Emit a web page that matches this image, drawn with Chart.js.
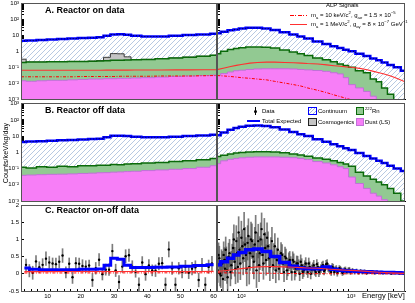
<!DOCTYPE html>
<html>
<head>
<meta charset="utf-8">
<script src="https://cdn.jsdelivr.net/npm/chart.js@4.4.0/dist/chart.umd.min.js"></script>
<style>
body { margin: 0; background: #fff; }
#wrap { position: relative; width: 415px; height: 303px; overflow: hidden; font-family: "Liberation Sans", Arial, sans-serif; color: #000; }
canvas { position: absolute; }
.t { position: absolute; white-space: nowrap; line-height: 1; }
.ttl { font-weight: bold; font-size: 9px; }
.lg { font-size: 6px; }
.lg sub, .lg sup { font-size: 70%; line-height: 0; }
.box { position: absolute; box-sizing: border-box; }
</style>
</head>
<body>
<div id="wrap">
  <canvas id="aL" width="222" height="105" style="left:0;top:0"></canvas>
  <canvas id="aR" width="208" height="105" style="left:207px;top:0"></canvas>
  <canvas id="bL" width="222" height="107" style="left:0;top:100px"></canvas>
  <canvas id="bR" width="208" height="107" style="left:207px;top:100px"></canvas>
  <canvas id="cL" width="222" height="104" style="left:0;top:199px"></canvas>
  <canvas id="cR" width="208" height="104" style="left:207px;top:199px"></canvas>

  <div class="t ttl" style="left:45px;top:5.5px">A. Reactor on data</div>
  <div class="t ttl" style="left:45px;top:106px">B. Reactor off data</div>
  <div class="t ttl" style="left:45px;top:206px">C. Reactor on-off data</div>
  <div class="t" style="left:6px;top:153px;font-size:7.2px;transform:translate(-50%,-50%) rotate(-90deg);">Counts/keV/kg/day</div>
  <div class="t" style="left:362px;top:292px;font-size:7.5px">Energy [keV]</div>

  <!-- ALP legend -->
  <div class="t lg" style="left:326px;top:2px">ALP Signals</div>
  <div class="box" style="left:290px;top:14.5px;width:17px;height:1.3px;background:repeating-linear-gradient(90deg,#f00 0 4px,transparent 4px 5.5px,#f00 5.5px 6.5px,transparent 6.5px 8px)"></div>
  <div class="t lg" style="left:311px;top:12px">m<sub>a</sub> = 10 keV/c<sup>2</sup>, g<sub>ae</sub> = 1.5 × 10<sup>−5</sup></div>
  <div class="box" style="left:290px;top:23.5px;width:17px;height:1.3px;background:#ff3030"></div>
  <div class="t lg" style="left:311px;top:21px">m<sub>a</sub> = 1 MeV/c<sup>2</sup>, g<sub>aγ</sub> = 8 × 10<sup>−7</sup> GeV<sup>−1</sup></div>

  <!-- B legend -->
  <div class="box" style="left:254.5px;top:107px;width:1px;height:8px;background:#000"></div>
  <div class="box" style="left:253.5px;top:110px;width:3px;height:3px;border-radius:50%;background:#000"></div>
  <div class="t lg" style="left:262px;top:108px">Data</div>
  <div class="box" style="left:247px;top:120px;width:13px;height:2px;background:#00f"></div>
  <div class="t lg" style="left:262px;top:118px">Total Expected</div>
  <div class="box" style="left:308px;top:107px;width:9px;height:8px;border:1.5px solid #00f;background:repeating-linear-gradient(135deg,#fff 0 1.6px,#a5bbdb 1.6px 2.4px)"></div>
  <div class="t lg" style="left:318px;top:108px">Continuum</div>
  <div class="box" style="left:308px;top:118px;width:9px;height:8px;border:1px solid #222;background:#c4c4c4"></div>
  <div class="t lg" style="left:318px;top:119px">Cosmogenics</div>
  <div class="box" style="left:356px;top:107px;width:8px;height:8px;border:1.2px solid #0a6a0a;background:#92c992"></div>
  <div class="t lg" style="left:365px;top:108px"><sup>222</sup>Rn</div>
  <div class="box" style="left:356px;top:118px;width:8px;height:8px;border:1.2px solid #c070d8;background:#f77ef7"></div>
  <div class="t lg" style="left:365px;top:119px">Dust (LS)</div>
</div>

<script>
// ---- energy grids ----
var eLeft = [3, 6, 9, 12, 15, 18, 21, 24, 26, 28, 30, 32, 34, 36, 40, 44, 48, 52, 56, 60];
var eRight = [60, 70, 80, 90, 100, 120, 140, 170, 200, 250, 300, 350, 400, 500, 600, 700, 800, 900, 1000, 1200, 1400, 1600, 1800, 2000, 2300, 2600, 3100];

// ---- A. reactor on (cumulative stack tops) ----
var totalOnLeft = [4.6, 4.8, 5.2, 5.6, 6.0, 6.4, 6.8, 7.2, 7.6, 9.5, 11.5, 11.8, 11, 9.5, 8.6, 8.6, 9.5, 10.5, 11.5, 13];
var cosmoOnLeft = [0.32, 0.21, 0.21, 0.22, 0.22, 0.23, 0.23, 0.24, 0.26, 0.42, 0.72, 0.7, 0.45, 0.29, 0.31, 0.34, 0.38, 0.43, 0.49, 0.56];
var radonOnLeft = [0.2, 0.21, 0.21, 0.22, 0.22, 0.23, 0.23, 0.24, 0.25, 0.26, 0.27, 0.27, 0.28, 0.29, 0.31, 0.34, 0.38, 0.43, 0.49, 0.56];
var dustOnLeft = [0.014, 0.013, 0.014, 0.015, 0.015, 0.016, 0.017, 0.018, 0.018, 0.019, 0.019, 0.02, 0.02, 0.021, 0.022, 0.024, 0.026, 0.028, 0.03, 0.032];
var totalOnRight = [13.5, 17, 21, 24, 27, 30, 30, 27, 22, 16, 11.5, 8.5, 6.5, 4.2, 2.9, 2.1, 1.6, 1.25, 1.0, 0.7, 0.5, 0.36, 0.27, 0.2, 0.14, 0.1, 0.06];
var radonOnRight = [0.7, 1.0, 1.3, 1.5, 1.7, 1.9, 1.9, 1.8, 1.6, 1.2, 0.9, 0.7, 0.55, 0.38, 0.3, 0.22, 0.16, 0.13, 0.1, 0.06, 0.045, 0.018, 0.012, 0.005, 0.002, 0.0009, 0.0005];
var dustOnRight = [0.03, 0.04, 0.05, 0.06, 0.065, 0.072, 0.078, 0.08, 0.08, 0.08, 0.078, 0.072, 0.068, 0.062, 0.055, 0.045, 0.038, 0.022, 0.008, 0.005, 0.003, 0.0015, 0.0008, 0.0005, 0.0003, 0.0002, 0.0001];

// ---- ALP signals ----
var alp10Left = [0.025, 0.025, 0.025, 0.025, 0.025, 0.025, 0.026, 0.026, 0.026, 0.026, 0.026, 0.027, 0.027, 0.027, 0.027, 0.028, 0.028, 0.028, 0.029, 0.03];
var alp1MLeft = [0.064, 0.064, 0.064, 0.064, 0.065, 0.065, 0.065, 0.065, 0.065, 0.066, 0.066, 0.066, 0.066, 0.067, 0.067, 0.067, 0.068, 0.068, 0.069, 0.07];
var alp10Right = [0.03, 0.028, 0.026, 0.024, 0.022, 0.02, 0.018, 0.016, 0.013, 0.01, 0.008, 0.0065, 0.005, 0.0035, 0.0025, 0.0018, 0.0014, 0.0011, 0.0009, 0.0006, 0.0004, 0.0003, 0.0002, 0.00015, 0.0001, 0.0001, 0.0001];
var alp1MRight = [0.07, 0.09, 0.11, 0.13, 0.15, 0.18, 0.2, 0.21, 0.21, 0.2, 0.19, 0.18, 0.17, 0.16, 0.14, 0.125, 0.115, 0.105, 0.1, 0.085, 0.07, 0.055, 0.045, 0.037, 0.028, 0.02, 0.012];

// ---- B. reactor off ----
var totalOffLeft = [4.4, 4.6, 4.9, 5.2, 5.5, 5.8, 6.2, 6.6, 7.0, 8.5, 10.5, 10.5, 10, 9, 8.4, 8.4, 9, 10, 11, 12];
var radonOffLeft = [0.12, 0.11, 0.13, 0.12, 0.14, 0.13, 0.15, 0.15, 0.16, 0.16, 0.18, 0.17, 0.19, 0.2, 0.22, 0.24, 0.27, 0.3, 0.35, 0.42];
var dustOffLeft = [0.038, 0.04, 0.042, 0.044, 0.045, 0.047, 0.05, 0.052, 0.055, 0.056, 0.06, 0.062, 0.065, 0.068, 0.075, 0.082, 0.09, 0.1, 0.12, 0.15];
var totalOffRight = [11.5, 17, 25, 32, 38, 44, 45, 42, 35, 26, 18, 13, 10, 6.5, 4.5, 3.2, 2.4, 1.8, 1.4, 0.9, 0.6, 0.42, 0.3, 0.22, 0.15, 0.1, 0.07];
var radonOffRight = [0.55, 0.65, 0.8, 0.9, 0.97, 1.05, 1.08, 1.08, 1.05, 0.95, 0.8, 0.68, 0.58, 0.45, 0.37, 0.3, 0.24, 0.19, 0.14, 0.06, 0.035, 0.022, 0.015, 0.01, 0.006, 0.003, 0.001];
var dustOffRight = [0.2, 0.3, 0.37, 0.42, 0.46, 0.5, 0.52, 0.52, 0.52, 0.5, 0.47, 0.42, 0.36, 0.27, 0.22, 0.17, 0.13, 0.1, 0.03, 0.012, 0.006, 0.003, 0.002, 0.0012, 0.0008, 0.0005, 0.0003];

// ---- C. on - off ----
var expDiffLeft = [0.17, 0.13, 0.12, 0.12, 0.12, 0.12, 0.13, 0.13, 0.14, 0.25, 0.45, 0.42, 0.25, 0.18, 0.18, 0.19, 0.2, 0.22, 0.24, 0.26];
var expDiffRight = [0.26, 0.35, 0.45, 0.55, 0.62, 0.7, 0.72, 0.65, 0.5, 0.33, 0.22, 0.17, 0.15, 0.15, 0.2, 0.13, 0.1, 0.09, 0.08, 0.07, 0.06, 0.05, 0.045, 0.04, 0.035, 0.03, 0.02];

var eDataLeft = [3.5, 4.5, 5.5, 6.5, 7.5, 8.5, 9.5, 10.5, 11.5, 12.5, 13.5, 14.5, 15.5, 16.5, 17.5, 18.5, 19.5, 20.5, 21.5, 22.5, 23.5, 24.5, 25.5, 26.5, 27.5, 28.5, 29.5, 30.5, 31.5, 32.5, 33.5, 34.5, 35.5, 36.5, 37.5, 38.5, 39.5, 40.5, 41.5, 42.5, 43.5, 44.5, 45.5, 46.5, 47.5, 48.5, 49.5, 50.5, 51.5, 52.5, 53.5, 54.5, 55.5, 56.5, 57.5, 58.5, 59.5];
var dataDiffLeft = [0.26, 0.09, 0.03, 0.36, 0.19, 0.26, 0.44, 0.33, 0.3, 0.28, 0.35, 0.53, 0.04, 0.29, -0.1, 0.31, 0.29, 0.23, 0.21, 0.24, -0.18, 0.16, 0.41, -0.01, 0.12, 0.12, 0.66, 0.1, -0.24, 0.21, 0.51, 0.54, 0.21, 0.06, -0.32, 0.33, -0.01, 0.24, 0.1, 0.09, 0.29, 0.31, -0.32, 0.71, 0.16, -0.32, 0.16, 0.06, 0.2, 0.03, 0.15, 0.19, -0.18, 0.26, -0.32, 0.2, 0.3];
var errDiffLeft = [0.17, 0.18, 0.19, 0.17, 0.16, 0.18, 0.2, 0.17, 0.16, 0.18, 0.17, 0.2, 0.16, 0.17, 0.18, 0.16, 0.17, 0.18, 0.17, 0.16, 0.19, 0.17, 0.18, 0.17, 0.16, 0.17, 0.2, 0.18, 0.19, 0.17, 0.19, 0.18, 0.17, 0.16, 0.2, 0.17, 0.18, 0.17, 0.16, 0.17, 0.18, 0.17, 0.2, 0.22, 0.18, 0.2, 0.17, 0.18, 0.19, 0.17, 0.18, 0.19, 0.2, 0.19, 0.21, 0.2, 0.21];

var eDataRight = [61, 63, 65, 67, 69, 71, 73, 75, 78, 81, 84, 87, 90, 93, 96, 100, 104, 108, 112, 116, 120, 125, 130, 135, 140, 145, 150, 156, 162, 168, 175, 182, 190, 198, 206, 215, 225, 235, 245, 255, 265, 276, 288, 300, 313, 326, 340, 355, 370, 386, 403, 420, 438, 457, 477, 498, 520, 543, 567, 592, 618, 645, 673, 702, 733, 765, 798, 833, 869, 907, 946, 987, 1030, 1075, 1122, 1171, 1222, 1275, 1330, 1388, 1448, 1511, 1577, 1646, 1718, 1793, 1871, 1953, 2038, 2127, 2220, 2317, 2418, 2523, 2633, 2748, 2868, 2993, 3080];
var dataDiffRight = [0.10, 0.45, -0.05, 0.30, 0.55, 0.15, 0.40, -0.10, 0.60, 0.25, 0.75, 0.35, 0.95, 0.20, 0.70, 1.05, 0.45, 0.85, 0.15, 1.10, 0.60, 0.95, 0.35, 1.20, 0.70, 0.25, 1.00, 0.55, 1.15, 0.40, 0.80, 0.20, 0.95, 0.50, 0.10, 0.70, 0.35, 0.55, 0.05, 0.45, 0.20, 0.40, 0.05, 0.35, 0.15, 0.30, 0.00, 0.25, 0.10, 0.30, 0.05, 0.20, 0.12, 0.25, 0.05, 0.20, 0.10, 0.22, 0.08, 0.28, 0.18, 0.10, 0.20, 0.05, 0.15, 0.08, 0.14, 0.03, 0.12, 0.06, 0.11, 0.04, 0.10, 0.05, 0.09, 0.03, 0.08, 0.04, 0.07, 0.02, 0.06, 0.04, 0.06, 0.02, 0.05, 0.03, 0.05, 0.02, 0.04, 0.03, 0.04, 0.01, 0.03, 0.02, 0.03, 0.01, 0.02, 0.01, 0.02];
var errDiffRight = [0.35, 0.35, 0.35, 0.35, 0.38, 0.35, 0.38, 0.38, 0.4, 0.4, 0.42, 0.42, 0.45, 0.45, 0.45, 0.48, 0.48, 0.5, 0.5, 0.5, 0.5, 0.5, 0.5, 0.5, 0.5, 0.48, 0.48, 0.46, 0.46, 0.44, 0.42, 0.4, 0.4, 0.38, 0.36, 0.34, 0.32, 0.3, 0.28, 0.27, 0.26, 0.25, 0.24, 0.23, 0.22, 0.21, 0.2, 0.19, 0.18, 0.17, 0.16, 0.15, 0.14, 0.14, 0.13, 0.13, 0.12, 0.12, 0.11, 0.11, 0.11, 0.1, 0.1, 0.09, 0.09, 0.08, 0.08, 0.08, 0.07, 0.07, 0.07, 0.06, 0.06, 0.06, 0.05, 0.05, 0.05, 0.05, 0.045, 0.045, 0.04, 0.04, 0.04, 0.035, 0.035, 0.035, 0.03, 0.03, 0.03, 0.03, 0.025, 0.025, 0.025, 0.025, 0.02, 0.02, 0.02, 0.02, 0.02];
// interleaved bins below 1 MeV (the cloud is denser there)
var eDataRight2 = [62, 64, 66, 68, 70, 72, 74, 76.5, 79.5, 82.5, 85.5, 88.5, 91.5, 94.5, 98, 102, 106, 110, 114, 118, 122.5, 127.5, 132.5, 137.5, 142.5, 147.5, 153, 159, 165, 171.5, 178.5, 186, 194, 202, 210.5, 220, 230, 240, 250, 260, 270.5, 282, 294, 306.5, 319.5, 333, 347.5, 362.5, 378, 394.5, 411.5, 429, 447.5, 467, 487.5, 509, 531.5, 555, 579.5, 605, 631.5, 659, 687.5, 717.5, 749, 781.5, 815.5, 851, 888, 926.5, 966.5];
var dataDiffRight2 = [0.55, 0.0, 0.35, -0.15, 0.4, 0.7, 0.1, 0.5, 0.05, 0.45, 1.0, 0.15, 0.6, 1.2, 0.3, 0.8, 1.3, 0.55, 0.9, 0.2, 1.0, 0.5, 0.85, 0.1, 0.95, 0.6, 1.3, 0.3, 0.75, 1.05, 0.45, 0.65, 0.25, 0.8, 0.4, 0.15, 0.6, 0.3, 0.5, 0.1, 0.35, 0.25, 0.4, 0.05, 0.3, 0.2, 0.35, 0.05, 0.2, 0.15, 0.3, 0.0, 0.18, 0.1, 0.28, 0.05, 0.15, 0.25, 0.12, 0.3, 0.15, 0.05, 0.18, 0.12, 0.02, 0.16, 0.1, 0.05, 0.13, 0.07, 0.12];
var errDiffRight2 = [0.35, 0.35, 0.35, 0.36, 0.36, 0.37, 0.38, 0.39, 0.4, 0.41, 0.42, 0.44, 0.45, 0.46, 0.47, 0.48, 0.49, 0.5, 0.5, 0.5, 0.5, 0.5, 0.5, 0.5, 0.49, 0.48, 0.47, 0.46, 0.45, 0.43, 0.41, 0.4, 0.39, 0.37, 0.35, 0.33, 0.31, 0.29, 0.28, 0.27, 0.26, 0.25, 0.24, 0.23, 0.22, 0.21, 0.2, 0.19, 0.18, 0.17, 0.16, 0.15, 0.14, 0.14, 0.13, 0.13, 0.12, 0.12, 0.11, 0.11, 0.11, 0.1, 0.1, 0.09, 0.09, 0.08, 0.08, 0.08, 0.07, 0.07, 0.07];

// ---- styling / helpers ----
Chart.defaults.font.family = '"Liberation Sans", Arial, sans-serif';
Chart.defaults.font.size = 6;
Chart.defaults.color = '#000';

function makeHatch() {
	var c = document.createElement('canvas');
	c.width = 5; c.height = 5;
	var g = c.getContext('2d');
	g.fillStyle = '#fff';
	g.fillRect(0, 0, 5, 5);
	g.strokeStyle = '#a5bbdb';
	g.lineWidth = 0.8;
	g.beginPath();
	g.moveTo(0, 5); g.lineTo(5, 0);
	g.moveTo(-1, 1); g.lineTo(1, -1);
	g.moveTo(4, 6); g.lineTo(6, 4);
	g.stroke();
	return g.createPattern(c, 'repeat');
}
var hatch = makeHatch();

function pts(xs, ys) {
	return xs.map(function(x, i) { return {x: x, y: ys[i]}; });
}

var leftTicks = [];
for (var v = 4; v <= 60; v += 2) leftTicks.push(v);
var rightTicks = [70, 80, 90, 100, 200, 300, 400, 500, 600, 700, 800, 900, 1000, 2000, 3000];
var logTicks = [];
for (var ex = -3; ex <= 3; ex++) {
	for (var m = 1; m < 10; m++) logTicks.push(m * Math.pow(10, ex));
}

function decadeLabel(v) {
	var l = Math.log10(v);
	if (Math.abs(l - Math.round(l)) > 1e-6) return '';
	var n = Math.round(l);
	if (n === 0) return '1';
	if (n === 1) return '10';
	var sup = {'-': '\u207B', '1': '\u00B9', '2': '\u00B2', '3': '\u00B3'};
	return '10' + String(n).split('').map(function(c) { return sup[c]; }).join('');
}

function xLeft(labels) {
	return {
		type: 'linear', min: 3, max: 60,
		afterBuildTicks: function(s) { s.ticks = leftTicks.map(function(v) { return {value: v}; }); },
		ticks: { display: labels, autoSkip: false, maxRotation: 0, padding: 4,
			callback: function(v) { return v % 10 === 0 ? String(v) : ''; } },
		grid: { drawOnChartArea: false, tickLength: -2, color: '#000' },
		border: { color: '#000' },
		afterFit: function(s) { s.height = labels ? 12 : 6; s.paddingLeft = 0; s.paddingRight = 0; }
	};
}

function xRight(labels) {
	return {
		type: 'logarithmic', min: 60, max: 3100,
		afterBuildTicks: function(s) { s.ticks = rightTicks.map(function(v) { return {value: v}; }); },
		ticks: { display: labels, autoSkip: false, maxRotation: 0, padding: 4,
			callback: function(v) { return v === 100 ? '10\u00B2' : (v === 1000 ? '10\u00B3' : ''); } },
		grid: { drawOnChartArea: false, tickLength: -2, color: '#000' },
		border: { color: '#000' },
		afterFit: function(s) { s.height = labels ? 12 : 6; s.paddingLeft = 0; s.paddingRight = 0; }
	};
}

function yLog(max, labels) {
	return {
		type: 'logarithmic', min: 1e-3, max: max,
		afterBuildTicks: function(s) { s.ticks = logTicks.filter(function(v) { return v <= max; }).map(function(v) { return {value: v}; }); },
		ticks: { display: labels, autoSkip: false, padding: 5, callback: decadeLabel },
		grid: { drawOnChartArea: false, tickLength: -3, color: '#000' },
		border: { color: '#000' },
		afterFit: function(s) { s.width = labels ? 21 : 10; s.paddingTop = 0; s.paddingBottom = 0; }
	};
}

function yLin(labels) {
	return {
		type: 'linear', min: -0.5, max: 2,
		afterBuildTicks: function(s) { s.ticks = [-0.5, 0, 0.5, 1, 1.5, 2].map(function(v) { return {value: v}; }); },
		ticks: { display: labels, autoSkip: false, padding: 5, callback: function(v) { return String(v); } },
		grid: { drawOnChartArea: false, tickLength: -3, color: '#000' },
		border: { color: '#000' },
		afterFit: function(s) { s.width = labels ? 21 : 10; s.paddingTop = 0; s.paddingBottom = 0; }
	};
}

var framePlugin = {
	id: 'frame',
	afterDraw: function(chart) {
		var a = chart.chartArea, ctx = chart.ctx;
		ctx.save();
		ctx.strokeStyle = '#555';
		ctx.lineWidth = 1;
		ctx.strokeRect(a.left + 0.5, a.top + 0.5, a.right - a.left - 1, a.bottom - a.top);
		ctx.restore();
	}
};

function draw(id, datasets, xs, ys, pad) {
	new Chart(document.getElementById(id), {
		type: 'line',
		data: { datasets: datasets },
		options: {
			responsive: false, animation: false, devicePixelRatio: 1, events: [],
			layout: { padding: pad },
			plugins: { legend: { display: false }, tooltip: { enabled: false } },
			scales: { x: xs, y: ys },
			elements: { point: { radius: 0 }, line: { tension: 0 } }
		},
		plugins: [framePlugin]
	});
}

function stackSets(xs, total, cosmo, radon, dust, alp10, alp1M) {
	var sets = [];
	sets.push({ data: pts(xs, total), stepped: 'middle', fill: 'start', backgroundColor: hatch, borderWidth: 0, order: 10 });
	if (cosmo) sets.push({ data: pts(xs, cosmo), stepped: 'middle', fill: 'start', backgroundColor: '#c4c4c4', borderColor: '#3a3a3a', borderWidth: 1, order: 9 });
	sets.push({ data: pts(xs, radon), stepped: 'middle', fill: 'start', backgroundColor: '#92c992', borderColor: '#0a6a0a', borderWidth: 1.5, order: 8 });
	sets.push({ data: pts(xs, dust), stepped: 'middle', fill: 'start', backgroundColor: '#f77ef7', borderColor: '#c070d8', borderWidth: 1, order: 7 });
	if (alp10) sets.push({ data: pts(xs, alp10), borderColor: '#f00', borderWidth: 1, borderDash: [3, 1.5, 1, 1.5], order: 6 });
	if (alp1M) sets.push({ data: pts(xs, alp1M), borderColor: '#ff3030', borderWidth: 1.1, order: 5 });
	sets.push({ data: pts(xs, total), stepped: 'middle', borderColor: '#0000ff', borderWidth: 2.5, order: 3 });
	sets.push({ data: pts(xs, total), stepped: 'middle', borderColor: '#000', borderWidth: 0.8, borderDash: [1, 2], order: 2 });
	return sets;
}

function diffSets(xs, exp, ex, vals, errs, alp10, alp1M, blueWidth) {
	return [
		{ type: 'bar', data: ex.map(function(x, i) { return {x: x, y: [vals[i] - errs[i], vals[i] + errs[i]]}; }),
			backgroundColor: 'rgba(80,80,80,0.75)', barThickness: 1, maxBarThickness: 1, order: 9 },
		{ data: pts(ex, vals), showLine: false, pointRadius: 1.2, pointBackgroundColor: '#000', pointBorderWidth: 0, order: 8 },
		{ data: pts(xs, exp), stepped: 'middle', borderColor: '#0000ff', borderWidth: blueWidth, order: 4 },
		{ data: pts(xs, alp10), borderColor: '#f00', borderWidth: 1, borderDash: [3, 1.5, 1, 1.5], order: 3 },
		{ data: pts(xs, alp1M), borderColor: '#ff3030', borderWidth: 1.1, order: 2 }
	];
}

var padL = function(top) { return { left: 0, right: 5, top: top, bottom: 0 }; };
var padR = function(top) { return { left: 0, right: 10, top: top, bottom: 0 }; };

draw('aL', stackSets(eLeft, totalOnLeft, cosmoOnLeft, radonOnLeft, dustOnLeft, alp10Left, alp1MLeft), xLeft(false), yLog(1.1e3, true), padL(3));
draw('aR', stackSets(eRight, totalOnRight, null, radonOnRight, dustOnRight, alp10Right, alp1MRight), xRight(false), yLog(1.1e3, false), padR(3));
draw('bL', stackSets(eLeft, totalOffLeft, null, radonOffLeft, dustOffLeft, null, null), xLeft(false), yLog(1.1e3, true), padL(3));
draw('bR', stackSets(eRight, totalOffRight, null, radonOffRight, dustOffRight, null, null), xRight(false), yLog(1.1e3, false), padR(3));
draw('cL', diffSets(eLeft, expDiffLeft, eDataLeft, dataDiffLeft, errDiffLeft, alp10Left, alp1MLeft, 3), xLeft(true), yLin(true), padL(6));
draw('cR', diffSets(eRight, expDiffRight, eDataRight.concat(eDataRight2), dataDiffRight.concat(dataDiffRight2),
	errDiffRight.concat(errDiffRight2), alp10Right, alp1MRight, 3.5), xRight(true), yLin(false), padR(6));
</script>
</body>
</html>
